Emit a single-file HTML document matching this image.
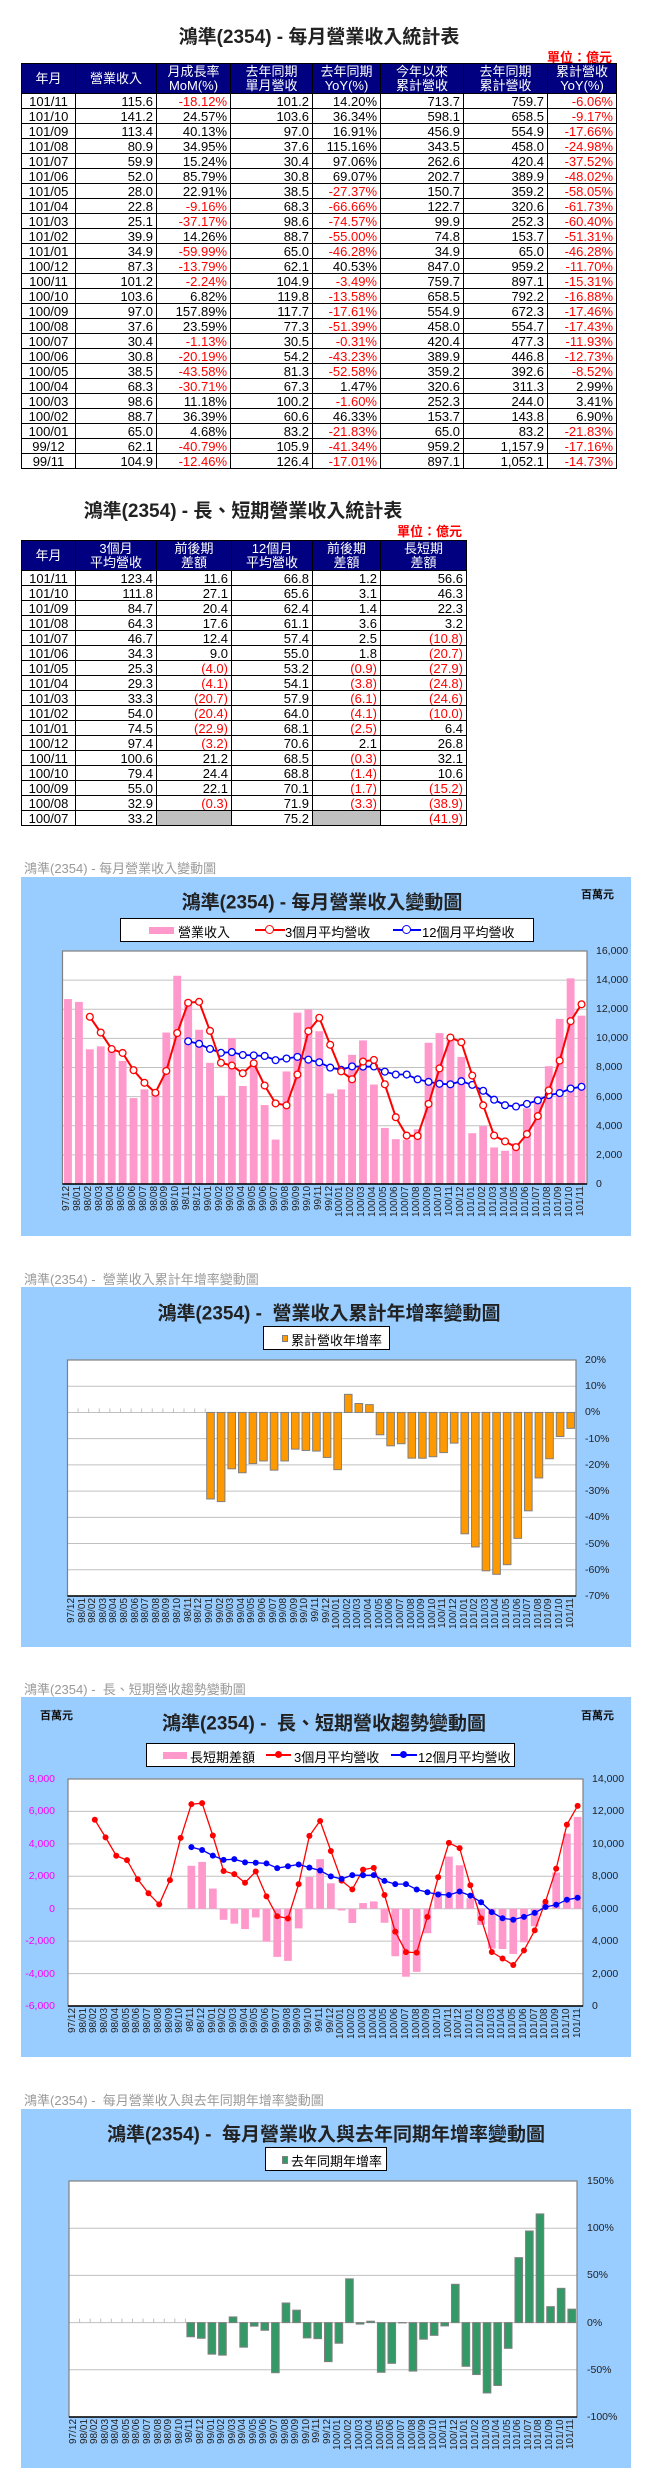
<!DOCTYPE html>
<html><head><meta charset="utf-8">
<style>
*{margin:0;padding:0;box-sizing:border-box}
body{width:655px;height:2491px;background:#fff;position:relative;font-family:"Liberation Sans","Noto Sans CJK TC",sans-serif;overflow:hidden}
.a{position:absolute;white-space:nowrap}
.ttl{font-weight:bold;font-size:19px;color:#222;transform:translateX(-50%)}
.unit{color:#f00;font-size:13px;font-weight:bold}
table{position:absolute;border-collapse:collapse;table-layout:fixed;font-size:13px}
td,th{border:1px solid #000;height:15px;line-height:13px;padding:0 3px 0 0;text-align:right;white-space:nowrap;overflow:hidden}
th{background:#000080;color:#fff;font-weight:normal;text-align:center;height:30px;line-height:14px;padding:0}
td:first-child{text-align:center;padding:0}
.r{color:#f00}
.g{background:#c0c0c0}
.sec{color:#999;font-size:13px}
.blue{position:absolute;left:21px;width:610px;background:#99ccff}
.ct{font-weight:bold;font-size:19px;color:#222;transform:translate(-50%,-50%)}
.lg{position:absolute;background:#fff;border:1px solid #000;font-size:13px}
.tk{font-size:10.5px;color:#222;transform:translateY(-50%)}
.tkl{font-size:10.5px;color:#f0f;transform:translate(-100%,-50%)}
.wan{font-weight:bold;font-size:11px;color:#111}
.xl{position:absolute;display:flex;height:46px}
.xl span{flex:1;writing-mode:vertical-rl;transform:rotate(180deg);text-align:end;font-size:10px;line-height:10px;color:#222;overflow:visible;white-space:nowrap}
svg{position:absolute;left:0;top:0}
</style></head><body>

<div class="a ttl" style="left:319px;top:22px">鴻準(2354) - 每月營業收入統計表</div>
<div class="a unit" style="right:43px;top:47px">單位：億元</div>
<table style="left:21px;top:63px;width:595px">
<colgroup><col style="width:54px"><col style="width:81px"><col style="width:74px"><col style="width:82px"><col style="width:68px"><col style="width:83px"><col style="width:84px"><col style="width:69px"></colgroup>
<tr><th>年月</th><th>營業收入</th><th>月成長率<br>MoM(%)</th><th>去年同期<br>單月營收</th><th>去年同期<br>YoY(%)</th><th>今年以來<br>累計營收</th><th>去年同期<br>累計營收</th><th>累計營收<br>YoY(%)</th></tr>
<tr><td>101/11</td><td>115.6</td><td class="r">-18.12%</td><td>101.2</td><td>14.20%</td><td>713.7</td><td>759.7</td><td class="r">-6.06%</td></tr>
<tr><td>101/10</td><td>141.2</td><td>24.57%</td><td>103.6</td><td>36.34%</td><td>598.1</td><td>658.5</td><td class="r">-9.17%</td></tr>
<tr><td>101/09</td><td>113.4</td><td>40.13%</td><td>97.0</td><td>16.91%</td><td>456.9</td><td>554.9</td><td class="r">-17.66%</td></tr>
<tr><td>101/08</td><td>80.9</td><td>34.95%</td><td>37.6</td><td>115.16%</td><td>343.5</td><td>458.0</td><td class="r">-24.98%</td></tr>
<tr><td>101/07</td><td>59.9</td><td>15.24%</td><td>30.4</td><td>97.06%</td><td>262.6</td><td>420.4</td><td class="r">-37.52%</td></tr>
<tr><td>101/06</td><td>52.0</td><td>85.79%</td><td>30.8</td><td>69.07%</td><td>202.7</td><td>389.9</td><td class="r">-48.02%</td></tr>
<tr><td>101/05</td><td>28.0</td><td>22.91%</td><td>38.5</td><td class="r">-27.37%</td><td>150.7</td><td>359.2</td><td class="r">-58.05%</td></tr>
<tr><td>101/04</td><td>22.8</td><td class="r">-9.16%</td><td>68.3</td><td class="r">-66.66%</td><td>122.7</td><td>320.6</td><td class="r">-61.73%</td></tr>
<tr><td>101/03</td><td>25.1</td><td class="r">-37.17%</td><td>98.6</td><td class="r">-74.57%</td><td>99.9</td><td>252.3</td><td class="r">-60.40%</td></tr>
<tr><td>101/02</td><td>39.9</td><td>14.26%</td><td>88.7</td><td class="r">-55.00%</td><td>74.8</td><td>153.7</td><td class="r">-51.31%</td></tr>
<tr><td>101/01</td><td>34.9</td><td class="r">-59.99%</td><td>65.0</td><td class="r">-46.28%</td><td>34.9</td><td>65.0</td><td class="r">-46.28%</td></tr>
<tr><td>100/12</td><td>87.3</td><td class="r">-13.79%</td><td>62.1</td><td>40.53%</td><td>847.0</td><td>959.2</td><td class="r">-11.70%</td></tr>
<tr><td>100/11</td><td>101.2</td><td class="r">-2.24%</td><td>104.9</td><td class="r">-3.49%</td><td>759.7</td><td>897.1</td><td class="r">-15.31%</td></tr>
<tr><td>100/10</td><td>103.6</td><td>6.82%</td><td>119.8</td><td class="r">-13.58%</td><td>658.5</td><td>792.2</td><td class="r">-16.88%</td></tr>
<tr><td>100/09</td><td>97.0</td><td>157.89%</td><td>117.7</td><td class="r">-17.61%</td><td>554.9</td><td>672.3</td><td class="r">-17.46%</td></tr>
<tr><td>100/08</td><td>37.6</td><td>23.59%</td><td>77.3</td><td class="r">-51.39%</td><td>458.0</td><td>554.7</td><td class="r">-17.43%</td></tr>
<tr><td>100/07</td><td>30.4</td><td class="r">-1.13%</td><td>30.5</td><td class="r">-0.31%</td><td>420.4</td><td>477.3</td><td class="r">-11.93%</td></tr>
<tr><td>100/06</td><td>30.8</td><td class="r">-20.19%</td><td>54.2</td><td class="r">-43.23%</td><td>389.9</td><td>446.8</td><td class="r">-12.73%</td></tr>
<tr><td>100/05</td><td>38.5</td><td class="r">-43.58%</td><td>81.3</td><td class="r">-52.58%</td><td>359.2</td><td>392.6</td><td class="r">-8.52%</td></tr>
<tr><td>100/04</td><td>68.3</td><td class="r">-30.71%</td><td>67.3</td><td>1.47%</td><td>320.6</td><td>311.3</td><td>2.99%</td></tr>
<tr><td>100/03</td><td>98.6</td><td>11.18%</td><td>100.2</td><td class="r">-1.60%</td><td>252.3</td><td>244.0</td><td>3.41%</td></tr>
<tr><td>100/02</td><td>88.7</td><td>36.39%</td><td>60.6</td><td>46.33%</td><td>153.7</td><td>143.8</td><td>6.90%</td></tr>
<tr><td>100/01</td><td>65.0</td><td>4.68%</td><td>83.2</td><td class="r">-21.83%</td><td>65.0</td><td>83.2</td><td class="r">-21.83%</td></tr>
<tr><td>99/12</td><td>62.1</td><td class="r">-40.79%</td><td>105.9</td><td class="r">-41.34%</td><td>959.2</td><td>1,157.9</td><td class="r">-17.16%</td></tr>
<tr><td>99/11</td><td>104.9</td><td class="r">-12.46%</td><td>126.4</td><td class="r">-17.01%</td><td>897.1</td><td>1,052.1</td><td class="r">-14.73%</td></tr>
</table>

<div class="a ttl" style="left:243px;top:496px">鴻準(2354) - 長、短期營業收入統計表</div>
<div class="a unit" style="right:193px;top:521px">單位：億元</div>
<table style="left:21px;top:540px;width:445px">
<colgroup><col style="width:54px"><col style="width:81px"><col style="width:75px"><col style="width:81px"><col style="width:68px"><col style="width:86px"></colgroup>
<tr><th>年月</th><th>3個月<br>平均營收</th><th>前後期<br>差額</th><th>12個月<br>平均營收</th><th>前後期<br>差額</th><th>長短期<br>差額</th></tr>
<tr><td>101/11</td><td>123.4</td><td>11.6</td><td>66.8</td><td>1.2</td><td>56.6</td></tr>
<tr><td>101/10</td><td>111.8</td><td>27.1</td><td>65.6</td><td>3.1</td><td>46.3</td></tr>
<tr><td>101/09</td><td>84.7</td><td>20.4</td><td>62.4</td><td>1.4</td><td>22.3</td></tr>
<tr><td>101/08</td><td>64.3</td><td>17.6</td><td>61.1</td><td>3.6</td><td>3.2</td></tr>
<tr><td>101/07</td><td>46.7</td><td>12.4</td><td>57.4</td><td>2.5</td><td class="r">(10.8)</td></tr>
<tr><td>101/06</td><td>34.3</td><td>9.0</td><td>55.0</td><td>1.8</td><td class="r">(20.7)</td></tr>
<tr><td>101/05</td><td>25.3</td><td class="r">(4.0)</td><td>53.2</td><td class="r">(0.9)</td><td class="r">(27.9)</td></tr>
<tr><td>101/04</td><td>29.3</td><td class="r">(4.1)</td><td>54.1</td><td class="r">(3.8)</td><td class="r">(24.8)</td></tr>
<tr><td>101/03</td><td>33.3</td><td class="r">(20.7)</td><td>57.9</td><td class="r">(6.1)</td><td class="r">(24.6)</td></tr>
<tr><td>101/02</td><td>54.0</td><td class="r">(20.4)</td><td>64.0</td><td class="r">(4.1)</td><td class="r">(10.0)</td></tr>
<tr><td>101/01</td><td>74.5</td><td class="r">(22.9)</td><td>68.1</td><td class="r">(2.5)</td><td>6.4</td></tr>
<tr><td>100/12</td><td>97.4</td><td class="r">(3.2)</td><td>70.6</td><td>2.1</td><td>26.8</td></tr>
<tr><td>100/11</td><td>100.6</td><td>21.2</td><td>68.5</td><td class="r">(0.3)</td><td>32.1</td></tr>
<tr><td>100/10</td><td>79.4</td><td>24.4</td><td>68.8</td><td class="r">(1.4)</td><td>10.6</td></tr>
<tr><td>100/09</td><td>55.0</td><td>22.1</td><td>70.1</td><td class="r">(1.7)</td><td class="r">(15.2)</td></tr>
<tr><td>100/08</td><td>32.9</td><td class="r">(0.3)</td><td>71.9</td><td class="r">(3.3)</td><td class="r">(38.9)</td></tr>
<tr><td>100/07</td><td>33.2</td><td class="g"></td><td>75.2</td><td class="g"></td><td class="r">(41.9)</td></tr>
</table>

<div class="a sec" style="left:24px;top:858px">鴻準(2354) - 每月營業收入變動圖</div>
<div class="blue" style="top:877px;height:359px"></div>
<div class="a sec" style="left:24px;top:1269px">鴻準(2354) -&nbsp; 營業收入累計年增率變動圖</div>
<div class="blue" style="top:1287px;height:360px"></div>
<div class="a sec" style="left:24px;top:1679px">鴻準(2354) -&nbsp; 長、短期營收趨勢變動圖</div>
<div class="blue" style="top:1697px;height:360px"></div>
<div class="a sec" style="left:24px;top:2090px">鴻準(2354) -&nbsp; 每月營業收入與去年同期年增率變動圖</div>
<div class="blue" style="top:2109px;height:359px"></div>

<svg id="g" width="655" height="2491"></svg>

<!-- chart 1 -->
<div class="a ct" style="left:322px;top:901px">鴻準(2354) - 每月營業收入變動圖</div>
<div class="a wan" style="left:581px;top:886px">百萬元</div>
<div class="lg" style="left:120px;top:918px;width:414px;height:24px">
<div class="a" style="left:28px;top:8px;width:25px;height:7px;background:#ff99cc"></div>
<div class="a" style="left:57px;top:3px">營業收入</div>
<div class="a" style="left:134px;top:10px;width:30px;height:2px;background:#f00"></div>
<div class="a" style="left:144px;top:6px;width:9px;height:9px;border:1.5px solid #f00;border-radius:50%;background:#fff"></div>
<div class="a" style="left:164px;top:3px">3個月平均營收</div>
<div class="a" style="left:272px;top:10px;width:28px;height:2px;background:#00f"></div>
<div class="a" style="left:281px;top:6px;width:9px;height:9px;border:1.5px solid #00f;border-radius:50%;background:#fff"></div>
<div class="a" style="left:301px;top:3px">12個月平均營收</div>
</div>
<div class="a tk" style="left:596px;top:951px">16,000</div>
<div class="a tk" style="left:596px;top:980px">14,000</div>
<div class="a tk" style="left:596px;top:1009px">12,000</div>
<div class="a tk" style="left:596px;top:1038px">10,000</div>
<div class="a tk" style="left:596px;top:1067px">8,000</div>
<div class="a tk" style="left:596px;top:1097px">6,000</div>
<div class="a tk" style="left:596px;top:1126px">4,000</div>
<div class="a tk" style="left:596px;top:1155px">2,000</div>
<div class="a tk" style="left:596px;top:1184px">0</div>
<div class="xl" style="left:62px;top:1186px;width:525px"><span>97/12</span><span>98/01</span><span>98/02</span><span>98/03</span><span>98/04</span><span>98/05</span><span>98/06</span><span>98/07</span><span>98/08</span><span>98/09</span><span>98/10</span><span>98/11</span><span>98/12</span><span>99/01</span><span>99/02</span><span>99/03</span><span>99/04</span><span>99/05</span><span>99/06</span><span>99/07</span><span>99/08</span><span>99/09</span><span>99/10</span><span>99/11</span><span>99/12</span><span>100/01</span><span>100/02</span><span>100/03</span><span>100/04</span><span>100/05</span><span>100/06</span><span>100/07</span><span>100/08</span><span>100/09</span><span>100/10</span><span>100/11</span><span>100/12</span><span>101/01</span><span>101/02</span><span>101/03</span><span>101/04</span><span>101/05</span><span>101/06</span><span>101/07</span><span>101/08</span><span>101/09</span><span>101/10</span><span>101/11</span></div>

<!-- chart 2 -->
<div class="a ct" style="left:329px;top:1312px">鴻準(2354) -&nbsp; 營業收入累計年增率變動圖</div>
<div class="lg" style="left:263px;top:1326px;width:127px;height:24px">
<div class="a" style="left:18px;top:8px;width:6px;height:7px;background:#ff9900;border:1px solid #808080"></div>
<div class="a" style="left:27px;top:3px">累計營收年增率</div>
</div>
<div class="a tk" style="left:585px;top:1360px">20%</div>
<div class="a tk" style="left:585px;top:1386px">10%</div>
<div class="a tk" style="left:585px;top:1412px">0%</div>
<div class="a tk" style="left:585px;top:1439px">-10%</div>
<div class="a tk" style="left:585px;top:1465px">-20%</div>
<div class="a tk" style="left:585px;top:1491px">-30%</div>
<div class="a tk" style="left:585px;top:1517px">-40%</div>
<div class="a tk" style="left:585px;top:1544px">-50%</div>
<div class="a tk" style="left:585px;top:1570px">-60%</div>
<div class="a tk" style="left:585px;top:1596px">-70%</div>
<div class="xl" style="left:67px;top:1598px;width:509px"><span>97/12</span><span>98/01</span><span>98/02</span><span>98/03</span><span>98/04</span><span>98/05</span><span>98/06</span><span>98/07</span><span>98/08</span><span>98/09</span><span>98/10</span><span>98/11</span><span>98/12</span><span>99/01</span><span>99/02</span><span>99/03</span><span>99/04</span><span>99/05</span><span>99/06</span><span>99/07</span><span>99/08</span><span>99/09</span><span>99/10</span><span>99/11</span><span>99/12</span><span>100/01</span><span>100/02</span><span>100/03</span><span>100/04</span><span>100/05</span><span>100/06</span><span>100/07</span><span>100/08</span><span>100/09</span><span>100/10</span><span>100/11</span><span>100/12</span><span>101/01</span><span>101/02</span><span>101/03</span><span>101/04</span><span>101/05</span><span>101/06</span><span>101/07</span><span>101/08</span><span>101/09</span><span>101/10</span><span>101/11</span></div>

<!-- chart 3 -->
<div class="a ct" style="left:324px;top:1722px">鴻準(2354) -&nbsp; 長、短期營收趨勢變動圖</div>
<div class="a wan" style="left:40px;top:1707px">百萬元</div>
<div class="a wan" style="left:581px;top:1707px">百萬元</div>
<div class="lg" style="left:146px;top:1743px;width:369px;height:24px">
<div class="a" style="left:16px;top:8px;width:24px;height:7px;background:#ff99cc"></div>
<div class="a" style="left:43px;top:3px">長短期差額</div>
<div class="a" style="left:119px;top:10px;width:25px;height:1.5px;background:#f00"></div>
<div class="a" style="left:128px;top:7px;width:7px;height:7px;border-radius:50%;background:#f00"></div>
<div class="a" style="left:147px;top:3px">3個月平均營收</div>
<div class="a" style="left:244px;top:10px;width:26px;height:1.5px;background:#00f"></div>
<div class="a" style="left:253px;top:7px;width:7px;height:7px;border-radius:50%;background:#00f"></div>
<div class="a" style="left:271px;top:3px">12個月平均營收</div>
</div>
<div class="a tkl" style="left:55px;top:1779px">8,000</div>
<div class="a tkl" style="left:55px;top:1811px">6,000</div>
<div class="a tkl" style="left:55px;top:1844px">4,000</div>
<div class="a tkl" style="left:55px;top:1876px">2,000</div>
<div class="a tkl" style="left:55px;top:1909px">0</div>
<div class="a tkl" style="left:55px;top:1941px">-2,000</div>
<div class="a tkl" style="left:55px;top:1974px">-4,000</div>
<div class="a tkl" style="left:55px;top:2006px">-6,000</div>
<div class="a tk" style="left:592px;top:1779px">14,000</div>
<div class="a tk" style="left:592px;top:1811px">12,000</div>
<div class="a tk" style="left:592px;top:1844px">10,000</div>
<div class="a tk" style="left:592px;top:1876px">8,000</div>
<div class="a tk" style="left:592px;top:1909px">6,000</div>
<div class="a tk" style="left:592px;top:1941px">4,000</div>
<div class="a tk" style="left:592px;top:1974px">2,000</div>
<div class="a tk" style="left:592px;top:2006px">0</div>
<div class="xl" style="left:68px;top:2008px;width:515px"><span>97/12</span><span>98/01</span><span>98/02</span><span>98/03</span><span>98/04</span><span>98/05</span><span>98/06</span><span>98/07</span><span>98/08</span><span>98/09</span><span>98/10</span><span>98/11</span><span>98/12</span><span>99/01</span><span>99/02</span><span>99/03</span><span>99/04</span><span>99/05</span><span>99/06</span><span>99/07</span><span>99/08</span><span>99/09</span><span>99/10</span><span>99/11</span><span>99/12</span><span>100/01</span><span>100/02</span><span>100/03</span><span>100/04</span><span>100/05</span><span>100/06</span><span>100/07</span><span>100/08</span><span>100/09</span><span>100/10</span><span>100/11</span><span>100/12</span><span>101/01</span><span>101/02</span><span>101/03</span><span>101/04</span><span>101/05</span><span>101/06</span><span>101/07</span><span>101/08</span><span>101/09</span><span>101/10</span><span>101/11</span></div>

<!-- chart 4 -->
<div class="a ct" style="left:326px;top:2133px">鴻準(2354) -&nbsp; 每月營業收入與去年同期年增率變動圖</div>
<div class="lg" style="left:265px;top:2147px;width:122px;height:24px">
<div class="a" style="left:16px;top:8px;width:6px;height:8px;background:#339966;border:1px solid #808080"></div>
<div class="a" style="left:25px;top:3px">去年同期年增率</div>
</div>
<div class="a tk" style="left:587px;top:2181px">150%</div>
<div class="a tk" style="left:587px;top:2228px">100%</div>
<div class="a tk" style="left:587px;top:2275px">50%</div>
<div class="a tk" style="left:587px;top:2323px">0%</div>
<div class="a tk" style="left:587px;top:2370px">-50%</div>
<div class="a tk" style="left:587px;top:2417px">-100%</div>
<div class="xl" style="left:69px;top:2419px;width:508px"><span>97/12</span><span>98/01</span><span>98/02</span><span>98/03</span><span>98/04</span><span>98/05</span><span>98/06</span><span>98/07</span><span>98/08</span><span>98/09</span><span>98/10</span><span>98/11</span><span>98/12</span><span>99/01</span><span>99/02</span><span>99/03</span><span>99/04</span><span>99/05</span><span>99/06</span><span>99/07</span><span>99/08</span><span>99/09</span><span>99/10</span><span>99/11</span><span>99/12</span><span>100/01</span><span>100/02</span><span>100/03</span><span>100/04</span><span>100/05</span><span>100/06</span><span>100/07</span><span>100/08</span><span>100/09</span><span>100/10</span><span>100/11</span><span>100/12</span><span>101/01</span><span>101/02</span><span>101/03</span><span>101/04</span><span>101/05</span><span>101/06</span><span>101/07</span><span>101/08</span><span>101/09</span><span>101/10</span><span>101/11</span></div>

<script>
(function(){
var NS="http://www.w3.org/2000/svg",G=document.getElementById("g");
function el(t,a){var e=document.createElementNS(NS,t);for(var k in a)e.setAttribute(k,a[k]);G.appendChild(e);return e;}
var rev=[12700,12500,9250,9450,9100,8450,5900,6500,6400,10400,14300,12640,10590,8320,6060,10020,6730,8130,5420,3050,7730,11770,11980,10490,6210,6500,8870,9860,6830,3850,3080,3040,3760,9700,10360,10120,8730,3490,3990,2510,2280,2800,5200,5990,8090,11340,14120,11560];
var N=48,a3=[],a12=[];
for(var i=0;i<N;i++){
 a3[i]=i>=2?(rev[i]+rev[i-1]+rev[i-2])/3:null;
 if(i>=11){var s=0;for(var j=i-11;j<=i;j++)s+=rev[j];a12[i]=s/12;}else a12[i]=null;
}
var cum=[-33,-34,-21.5,-23,-19.5,-18.5,-22,-18.5,-14,-14.5,-14.73,-17.16,-21.83,6.90,3.41,2.99,-8.52,-12.73,-11.93,-17.43,-17.46,-16.88,-15.31,-11.70,-46.28,-51.31,-60.40,-61.73,-58.05,-48.02,-37.52,-24.98,-17.66,-9.17,-6.06];
function plot(p,grid){
 el("rect",{x:p.x0,y:p.y0,width:p.x1-p.x0,height:p.y1-p.y0,fill:"#fff"});
 grid.forEach(function(v){var y=p.Y(v);el("line",{x1:p.x0,x2:p.x1,y1:y,y2:y,stroke:"#c0c0c0","stroke-width":1});});
}
function frame(p){el("rect",{x:p.x0,y:p.y0,width:p.x1-p.x0,height:p.y1-p.y0,fill:"none",stroke:"#808080","stroke-width":1.2});
 el("line",{x1:p.x0,x2:p.x1,y1:p.y1,y2:p.y1,stroke:"#000","stroke-width":1.5});}
function mk(x0,x1,y0,y1,mn,mx){var p={x0:x0,x1:x1,y0:y0,y1:y1};p.w=(x1-x0)/N;p.X=function(i){return x0+p.w*(i+.5)};p.Y=function(v){return y1-(v-mn)/(mx-mn)*(y1-y0)};return p;}
function bars(p,vals,fill,stroke,base,rw){vals.forEach(function(v,i){if(v==null)return;var y=p.Y(v),b=p.Y(base),bw=p.w*rw;
 var a={x:p.X(i)-bw/2,y:Math.min(y,b),width:bw,height:Math.abs(b-y),fill:fill};if(stroke){a.stroke=stroke;a["stroke-width"]=1;}el("rect",a);});}
function line(p,vals,col,sw,r,hollow){var d="";vals.forEach(function(v,i){if(v==null)return;d+=(d?"L":"M")+p.X(i).toFixed(1)+","+p.Y(v).toFixed(1);});
 el("path",{d:d,fill:"none",stroke:col,"stroke-width":sw});
 vals.forEach(function(v,i){if(v==null)return;el("circle",{cx:p.X(i),cy:p.Y(v),r:r,fill:hollow?"#fff":col,stroke:col,"stroke-width":hollow?1.3:0});});}
// chart1
var p1=mk(62.5,587,951,1184,0,16000);
plot(p1,[2000,4000,6000,8000,10000,12000,14000]);
bars(p1,rev,"#ff99cc",null,0,0.72);
line(p1,a12,"#0000ff",1.8,3.4,true);
line(p1,a3,"#ff0000",2,3.4,true);
frame(p1);
// chart2
var p2=mk(67.5,576,1360,1596,-70,20);
plot(p2,[10,0,-10,-20,-30,-40,-50,-60]);
var c2=[];for(var i=0;i<N;i++)c2[i]=i>=13?cum[i-13]:null;
bars(p2,c2,"#ff9900","#808080",0,0.72);
for(var i=0;i<13;i++){el("line",{x1:p2.x0+p2.w*(i+1),x2:p2.x0+p2.w*(i+1),y1:p2.Y(0)-4,y2:p2.Y(0),stroke:"#c0c0c0"});}
frame(p2);
// chart3
var p3=mk(68,583,1779,2006,-6000,8000);
var p3r=mk(68,583,1779,2006,0,14000);
plot(p3,[6000,4000,2000,0,-2000,-4000]);
var df=[];for(var i=0;i<N;i++)df[i]=a12[i]!=null?a3[i]-a12[i]:null;
bars(p3,df,"#ff99cc",null,0,0.72);
line(p3r,a3,"#ff0000",1.3,3,false);
line(p3r,a12,"#0000ff",1.3,3,false);
frame(p3);
// chart4
var p4=mk(69,577,2181,2417,-100,150);
plot(p4,[100,50,0,-50]);
var yo=[];for(var i=0;i<N;i++){yo[i]=i<11?null:(i==11?-15:(rev[i]/rev[i-12]-1)*100);}
bars(p4,yo,"#339966","#808080",0,0.72);
for(var i=0;i<11;i++){el("line",{x1:p4.x0+p4.w*(i+1),x2:p4.x0+p4.w*(i+1),y1:p4.Y(0)-4,y2:p4.Y(0),stroke:"#c0c0c0"});}
frame(p4);
})();
</script>
</body></html>
